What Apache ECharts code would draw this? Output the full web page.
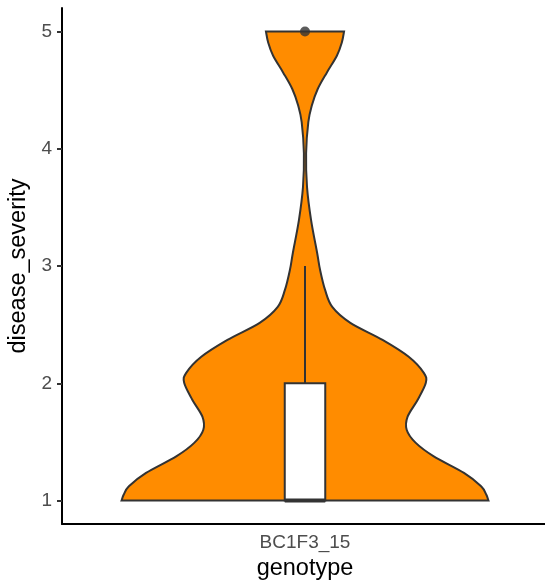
<!DOCTYPE html>
<html>
<head>
<meta charset="utf-8">
<script src="https://cdn.jsdelivr.net/npm/echarts@6/dist/echarts.min.js"></script>
<style>
html,body{margin:0;padding:0;background:#fff;}
#chart{width:545px;height:583px;}
</style>
</head>
<body>
<div id="chart"></div>
<script>
// ---- data ----
const categories = ['BC1F3_15'];
const yTicks = [1, 2, 3, 4, 5];
// violin outline: severity level -> relative half-width (1 = widest)
const densityLevels = [1.0, 1.051, 1.122, 1.236, 1.377, 1.494, 1.604, 1.715, 1.860, 2.004, 2.089, 2.226, 2.370, 2.515, 2.651, 2.796, 2.966, 3.111, 3.391, 3.672, 3.962, 4.226, 4.368, 4.509, 4.651, 4.793, 4.906, 5.0];
const densityWidths = [0.996, 0.984, 0.956, 0.863, 0.699, 0.600, 0.552, 0.557, 0.612, 0.656, 0.645, 0.563, 0.421, 0.246, 0.148, 0.109, 0.082, 0.066, 0.033, 0.011, 0.006, 0.018, 0.037, 0.069, 0.119, 0.173, 0.200, 0.212];
// box: [lower whisker, Q1, median, Q3, upper whisker]
const boxStats = [1, 1, 1, 2, 3];
const outliers = [5];

const VIOLIN_SCALE = 0.379;   // fraction of band for full half-width
const BOX_FRACTION = 0.1 / 1.2;
const FONT = '"Liberation Sans", Arial, sans-serif';

function catmull(pts) {
  let d = '';
  for (let i = 0; i < pts.length - 1; i++) {
    const p0 = pts[Math.max(i - 1, 0)], p1 = pts[i], p2 = pts[i + 1], p3 = pts[Math.min(i + 2, pts.length - 1)];
    const c1x = p1[0] + (p2[0] - p0[0]) / 6, c1y = p1[1] + (p2[1] - p0[1]) / 6;
    const c2x = p2[0] - (p3[0] - p1[0]) / 6, c2y = p2[1] - (p3[1] - p1[1]) / 6;
    d += ' C' + c1x + ' ' + c1y + ' ' + c2x + ' ' + c2y + ' ' + p2[0] + ' ' + p2[1];
  }
  return d;
}

const chart = echarts.init(document.getElementById('chart'), null, {renderer: 'canvas'});
chart.setOption({
  animation: false,
  backgroundColor: '#fff',
  grid: {left: 62, top: 8, width: 486, bottom: 59, containLabel: false, outerBoundsMode: 'none'},
  xAxis: {
    type: 'category',
    data: categories,
    boundaryGap: true,
    name: 'genotype',
    nameLocation: 'middle',
    nameGap: 32,
    nameTextStyle: {color: '#000', fontSize: 23.5, fontFamily: FONT},
    axisLine: {lineStyle: {color: '#000', width: 2}},
    axisTick: {alignWithLabel: true, length: 5, lineStyle: {color: '#333', width: 2}},
    axisLabel: {color: '#4d4d4d', fontSize: 19, fontFamily: FONT, margin: 9},
    splitLine: {show: false}
  },
  yAxis: {
    type: 'value',
    min: 0.8,
    max: 5.2,
    name: 'disease_severity',
    nameLocation: 'middle',
    nameGap: 28,
    nameRotate: 90,
    nameTextStyle: {color: '#000', fontSize: 23.5, fontFamily: FONT},
    axisLine: {show: true, lineStyle: {color: '#000', width: 2}},
    axisTick: {show: true, length: 5, customValues: yTicks, lineStyle: {color: '#333', width: 2}},
    axisLabel: {color: '#4d4d4d', fontSize: 19, fontFamily: FONT, margin: 10, customValues: yTicks},
    splitLine: {show: false}
  },
  series: [
    {
      type: 'custom',
      name: 'violin',
      data: [[0]],
      encode: {x: 0},
      renderItem: function (params, api) {
        const band = api.size([1, 0])[0];
        const cx = api.coord([0, densityLevels[0]])[0];
        const left = [], right = [];
        for (let i = 0; i < densityLevels.length; i++) {
          const p = api.coord([0, densityLevels[i]]);
          const hw = densityWidths[i] * VIOLIN_SCALE * band;
          left.push([cx - hw, p[1]]);
          right.push([cx + hw, p[1]]);
        }
        const rightRev = right.slice().reverse();
        let d = 'M' + left[0][0] + ' ' + left[0][1] + catmull(left);
        d += ' L' + rightRev[0][0] + ' ' + rightRev[0][1] + catmull(rightRev) + ' Z';
        return {
          type: 'path',
          shape: {pathData: d},
          style: {fill: '#FF8C00', stroke: '#333333', lineWidth: 2}
        };
      },
      z: 1
    },
    {
      type: 'custom',
      name: 'box',
      data: [[0]],
      encode: {x: 0},
      renderItem: function (params, api) {
        const band = api.size([1, 0])[0];
        const bw = band * BOX_FRACTION;
        const pLo = api.coord([0, boxStats[0]]);
        const pQ1 = api.coord([0, boxStats[1]]);
        const pMed = api.coord([0, boxStats[2]]);
        const pQ3 = api.coord([0, boxStats[3]]);
        const pHi = api.coord([0, boxStats[4]]);
        const cx = pQ1[0];
        const ls = {stroke: '#333333', lineWidth: 2};
        return {
          type: 'group',
          children: [
            {type: 'line', shape: {x1: cx, y1: pQ3[1], x2: cx, y2: pHi[1]}, style: ls},
            {type: 'line', shape: {x1: cx, y1: pQ1[1], x2: cx, y2: pLo[1]}, style: ls},
            {type: 'rect', shape: {x: cx - bw / 2, y: pQ3[1], width: bw, height: pQ1[1] - pQ3[1]},
              style: {fill: '#fff', stroke: '#333333', lineWidth: 2}},
            {type: 'line', shape: {x1: cx - bw / 2, y1: pMed[1], x2: cx + bw / 2, y2: pMed[1]},
              style: {stroke: '#333333', lineWidth: 4}}
          ]
        };
      },
      z: 2
    },
    {
      type: 'scatter',
      name: 'outliers',
      data: outliers.map(v => [categories[0], v]),
      symbol: 'circle',
      symbolSize: 10,
      itemStyle: {color: '#333333'},
      z: 3
    }
  ]
});
</script>
</body>
</html>
